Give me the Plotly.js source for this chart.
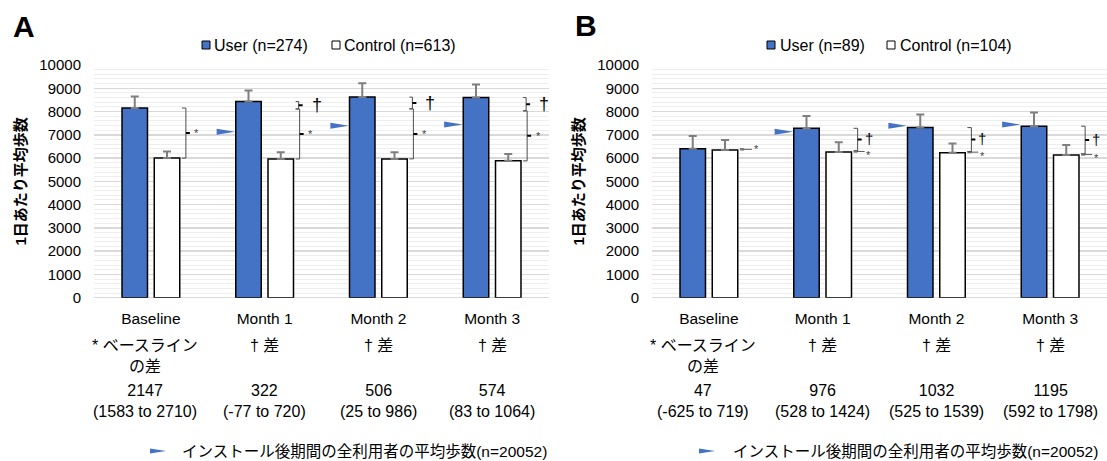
<!DOCTYPE html>
<html><head><meta charset="utf-8">
<script src="https://cdn.plot.ly/plotly-3.0.1.min.js"></script>
<style>body{margin:0;padding:0;background:#fff}#chart{width:1107px;height:461px}</style>
</head><body><div id="chart"></div>
<script>
// ---------- data ----------
const categories = ['Baseline', 'Month 1', 'Month 2', 'Month 3'];
const catIndex = [0, 1, 2, 3];
// Panel A
const userA = [8150, 8430, 8620, 8600];
const userAErr = [500, 470, 600, 560];
const controlA = [6000, 5960, 5965, 5880];
const controlAErr = [280, 290, 290, 290];
const diffA = [2147, 322, 506, 574];
const ciA = ['1583 to 2710', '-77 to 720', '25 to 986', '83 to 1064'];
const legendA = ['User (n=274)', 'Control (n=613)'];
// Panel B
const userB = [6400, 7280, 7310, 7370];
const userBErr = [545, 530, 560, 585];
const controlB = [6350, 6260, 6230, 6130];
const controlBErr = [430, 420, 400, 430];
const diffB = [47, 976, 1032, 1195];
const ciB = ['-625 to 719', '528 to 1424', '525 to 1539', '592 to 1798'];
const legendB = ['User (n=89)', 'Control (n=104)'];
// average steps of all users after install (n=20052)
const allUsersAvg = [null, 7130, 7385, 7440];
const noteLabels = ['* ベースライン<br>の差', '† 差', '† 差', '† 差'];
const avgLabel = 'インストール後期間の全利用者の平均歩数(n=20052)';
const yTitle = '1日あたり平均歩数';
const yTicks = [0,1000,2000,3000,4000,5000,6000,7000,8000,9000,10000];

// ---------- styling ----------
const W = 1107, H = 461;
const FONT = 'Liberation Sans, Arial, Noto Sans CJK JP, sans-serif';
const BLUE = '#4472C4';
const px = x => x / W;
const py = y => 1 - y / H;
const yDom = [py(297.7), py(65)];

function bar(x, y, err, color, xa, ya, name) {
  return {
    type: 'bar', x: x, y: y, name: name, xaxis: xa, yaxis: ya, showlegend: false,
    marker: {color: color, line: {color: '#000', width: 1.5}},
    error_y: {type: 'data', symmetric: false, array: err, arrayminus: err.map(() => 0),
      color: '#7f7f7f', thickness: 2, width: 4},
    hoverinfo: 'x+y'
  };
}

const data = [
  bar(catIndex, userA, userAErr, BLUE, 'x', 'y', legendA[0]),
  bar(catIndex, controlA, controlAErr, '#ffffff', 'x', 'y', legendA[1]),
  bar(catIndex, userB, userBErr, BLUE, 'x2', 'y2', legendB[0]),
  bar(catIndex, controlB, controlBErr, '#ffffff', 'x2', 'y2', legendB[1])
];

const shapes = [];
const annotations = [];

function addTriangles(xr, yr) {
  allUsersAvg.forEach((v, i) => {
    if (v === null) return;
    shapes.push({type: 'path', xref: xr, yref: yr, xsizemode: 'pixel', ysizemode: 'pixel',
      xanchor: catIndex[i], yanchor: v, path: 'M -48,3 L -29.5,0 L -48,-3 Z',
      fillcolor: BLUE, line: {width: 0}});
  });
}

function bracket(xr, yr, i, top, bot, vx, hook, tickEnd, tickColor, tickW) {
  shapes.push({type: 'path', xref: xr, yref: yr, xsizemode: 'pixel', ysizemode: 'scaled',
    xanchor: catIndex[i], path: `M ${hook},${top} L ${vx},${top} L ${vx},${bot} L ${hook},${bot}`,
    line: {color: '#4d4d4d', width: 1}});
  const mid = (top + bot) / 2;
  shapes.push({type: 'path', xref: xr, yref: yr, xsizemode: 'pixel', ysizemode: 'scaled',
    xanchor: catIndex[i], path: `M ${vx},${mid} L ${tickEnd},${mid}`,
    line: {color: tickColor, width: tickW}});
  return mid;
}

function mark(xr, yr, i, y, text, size, shift, color, yanchor, yshift) {
  annotations.push({xref: xr, yref: yr, x: catIndex[i], y: y, xshift: shift, yshift: yshift || 0,
    text: text, showarrow: false, borderpad: 0,
    font: {family: FONT, size: size, color: color}, xanchor: 'center', yanchor: yanchor || 'middle'});
}

// Panel A brackets
addTriangles('x', 'y');
const baseGapA = userA[0] - controlA[0];
catIndex.forEach(i => {
  if (i === 0) {
    const m = bracket('x', 'y', i, userA[0], controlA[0], 35, 31, 39, '#000', 2);
    mark('x', 'y', i, m, '*', 11, 46, '#404040');
  } else {
    const X = controlA[i] + baseGapA;
    const m = bracket('x', 'y', i, X, controlA[i], 35, 31, 39, '#000', 2);
    mark('x', 'y', i, m, '*', 11, 46, '#404040');
    const m2 = bracket('x', 'y', i, userA[i], X, 34, 31, 38, '#000', 2);
    mark('x', 'y', i, m2, '†', 18, 52, '#000');
  }
});
// Panel B brackets
addTriangles('x2', 'y2');
const baseGapB = userB[0] - controlB[0];
catIndex.forEach(i => {
  if (i === 0) {
    const m = bracket('x2', 'y2', i, userB[0], controlB[0], 35, 31, 43, '#595959', 1);
    mark('x2', 'y2', i, m, '*', 11, 48, '#404040');
  } else {
    const X = controlB[i] + baseGapB;
    const m = bracket('x2', 'y2', i, X, controlB[i], 35, 31, 42, '#595959', 1);
    mark('x2', 'y2', i, m, '*', 11, 46, '#404040', 'top', 3);
    const m2 = bracket('x2', 'y2', i, userB[i], X, 35, 31, 39, '#000', 2);
    mark('x2', 'y2', i, m2, '†', 15, 46, '#000', 'middle', 1);
  }
});

// Table rows under axes
function tableRows(xr, notes, diffs, cis) {
  catIndex.forEach(i => {
    const sh = i === 0 ? -6 : 0;
    annotations.push({xref: xr, yref: 'paper', x: catIndex[i], y: py(335), xshift: sh, yanchor: 'top', xanchor: 'center',
      text: notes[i], showarrow: false, font: {family: FONT, size: 16, color: '#000'}});
    annotations.push({xref: xr, yref: 'paper', x: catIndex[i], y: py(380), xshift: sh, yanchor: 'top', xanchor: 'center',
      text: `${diffs[i]}<br>(${cis[i]})`, showarrow: false, font: {family: FONT, size: 16, color: '#000'}});
  });
}
tableRows('x', noteLabels, diffA, ciA);
tableRows('x2', noteLabels, diffB, ciB);

// Bottom legends (average marker)
[[166, 180], [715, 731]].forEach(([tx, lx]) => {
  shapes.push({type: 'path', xref: 'paper', yref: 'paper', xsizemode: 'pixel', ysizemode: 'pixel',
    xanchor: px(tx), yanchor: py(451), path: 'M -16,2.5 L 0,0 L -16,-2.5 Z', fillcolor: BLUE, line: {width: 0}});
  annotations.push({xref: 'paper', yref: 'paper', x: px(lx), y: py(451), xanchor: 'left', yanchor: 'middle',
    text: avgLabel, showarrow: false, font: {family: FONT, size: 15.5, color: '#000'}});
});

// Top legends (manual)
function topLegend(labels, sq1, tx1, sq2, tx2) {
  [[sq1, tx1, BLUE, labels[0]], [sq2, tx2, '#fff', labels[1]]].forEach(([s, t, c, lab]) => {
    shapes.push({type: 'rect', xref: 'paper', yref: 'paper', x0: px(s), x1: px(s + 8), y0: py(49), y1: py(41),
      fillcolor: c, line: {color: '#000', width: 1}});
    annotations.push({xref: 'paper', yref: 'paper', x: px(t), y: py(45), xanchor: 'left', yanchor: 'middle',
      text: lab, showarrow: false, font: {family: FONT, size: 16, color: '#000'}});
  });
}
topLegend(legendA, 202, 212, 332, 342);
topLegend(legendB, 767, 778, 887, 898);

// Panel letters
annotations.push({xref: 'paper', yref: 'paper', x: px(24), y: py(27), xanchor: 'center', yanchor: 'middle',
  text: '<b>A</b>', showarrow: false, font: {family: FONT, size: 30, color: '#000'}});
annotations.push({xref: 'paper', yref: 'paper', x: px(586), y: py(25), xanchor: 'center', yanchor: 'middle',
  text: '<b>B</b>', showarrow: false, font: {family: FONT, size: 30, color: '#000'}});

function xAxis(dom, yname) {
  return {domain: dom, anchor: yname, range: [-0.5, 3.5], tickvals: catIndex, ticktext: categories,
    showgrid: false, zeroline: false, showline: false, ticks: '', ticklabelstandoff: 10,
    tickfont: {family: FONT, size: 15.5, color: '#000'}, fixedrange: true};
}
function yAxis(xname) {
  return {domain: yDom, anchor: xname, range: [0, 10000], tickvals: yTicks, tickformat: 'd',
    showgrid: true, gridcolor: '#d9d9d9', gridwidth: 1.5,
    minor: {dtick: 200, showgrid: true, gridcolor: '#eeeeee', gridwidth: 1, ticks: ''},
    zeroline: true, zerolinecolor: '#d9d9d9', zerolinewidth: 1.5, showline: false, ticks: '',
    ticklabelstandoff: 12, tickfont: {family: FONT, size: 15, color: '#000'},
    title: {text: '<b>' + yTitle + '</b>', standoff: 9, font: {family: FONT, size: 15, color: '#000'}},
    fixedrange: true};
}

const layout = {
  width: W, height: H, margin: {l: 0, r: 0, t: 0, b: 0},
  paper_bgcolor: '#fff', plot_bgcolor: '#fff',
  barmode: 'group', bargap: 0.433, bargroupgap: 0.21,
  showlegend: false,
  xaxis: xAxis([px(94), px(549)], 'y'),
  yaxis: yAxis('x'),
  xaxis2: xAxis([px(652), 1], 'y2'),
  yaxis2: yAxis('x2'),
  shapes: shapes, annotations: annotations,
  font: {family: FONT, color: '#000'}
};

Plotly.newPlot('chart', data, layout, {displayModeBar: false, staticPlot: true});
</script></body></html>
